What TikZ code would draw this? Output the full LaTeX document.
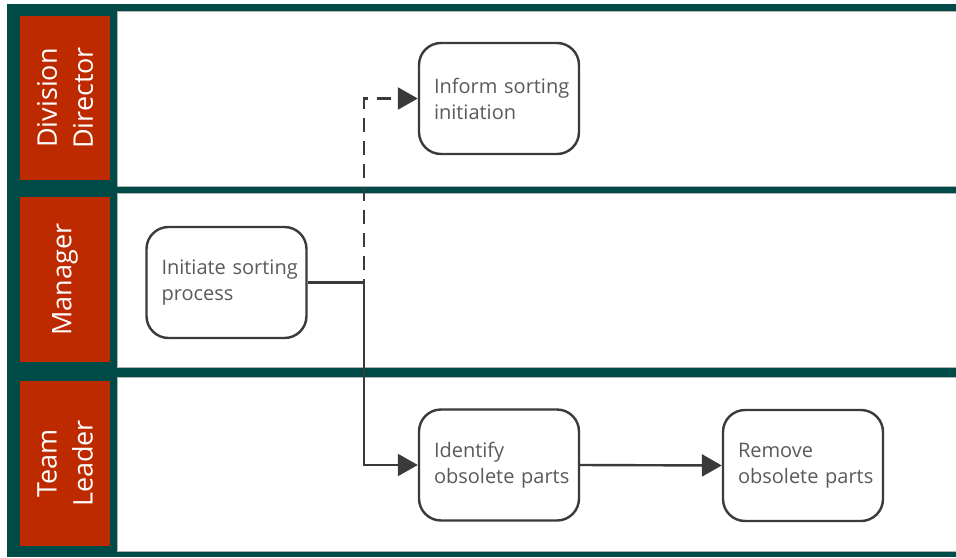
\documentclass[tikz,border=0pt]{standalone}
\usepackage{fontspec}
\setmainfont{Open Sans}
\usetikzlibrary{arrows.meta}
\definecolor{laneteal}{HTML}{004A47}
\definecolor{lanered}{HTML}{BE2A00}
\definecolor{boxline}{HTML}{3A3A3A}
\definecolor{boxtext}{HTML}{5A5A5A}
\hfuzz=20pt
\begin{document}
\begin{tikzpicture}[x=1pt,y=-1pt,
  lanebody/.style={fill=white, draw=black!30, line width=0.5pt},
  laneheadbox/.style={fill=lanered},
  lanehead/.style={rotate=90, text=white, align=center, inner sep=0pt,
    font=\fontsize{27}{36}\selectfont},
  task/.style={draw=boxline, line width=2.4pt, rounded corners=22pt, fill=white,
    text=boxtext, align=left, text width=130pt, inner xsep=15pt,
    minimum height=111pt, font=\fontsize{20}{26}\selectfont},
  flow/.style={draw=boxline, line width=2.4pt, line join=miter,
    -{Triangle[length=20pt,width=22pt]}},
  ]
\useasboundingbox (0,0) rectangle (956,557);

% pool frame
\fill[laneteal] (7,4) rectangle (956,557);

% lane bodies
\path[lanebody] (117,11) rectangle (957,186);
\path[lanebody] (117,193) rectangle (957,367);
\path[lanebody] (117,377) rectangle (957,551);

% lane headers
\fill[laneheadbox] (20,16) rectangle (110,180);
\fill[laneheadbox] (20,197) rectangle (110,362);
\fill[laneheadbox] (20,381) rectangle (110,546);
\node[lanehead] (hdirector) at (65,98) {Division\\Director};
\node[lanehead] (hmanager) at (65,279.5) {Manager};
\node[lanehead] (hleader) at (65,463.5) {Team\\Leader};

% tasks
\node[task] (inform) at (499,98.5) {\mbox{Inform sorting}\\initiation};
\node[task] (initiate) at (226.5,282.5) {\mbox{Initiate sorting}\\process};
\node[task] (identify) at (499,465) {Identify\\\mbox{obsolete parts}};
\node[task] (remove) at (803,465.5) {Remove\\\mbox{obsolete parts}};

% sequence flows
\draw[flow, dash pattern=on 14pt off 9pt] (initiate.east) -- ++(56,0) |- (inform.west);
\draw[flow] (initiate.east) -- ++(56,0) |- (identify.west);
\draw[flow] (identify.east) -- (remove.west);
\end{tikzpicture}
\end{document}
